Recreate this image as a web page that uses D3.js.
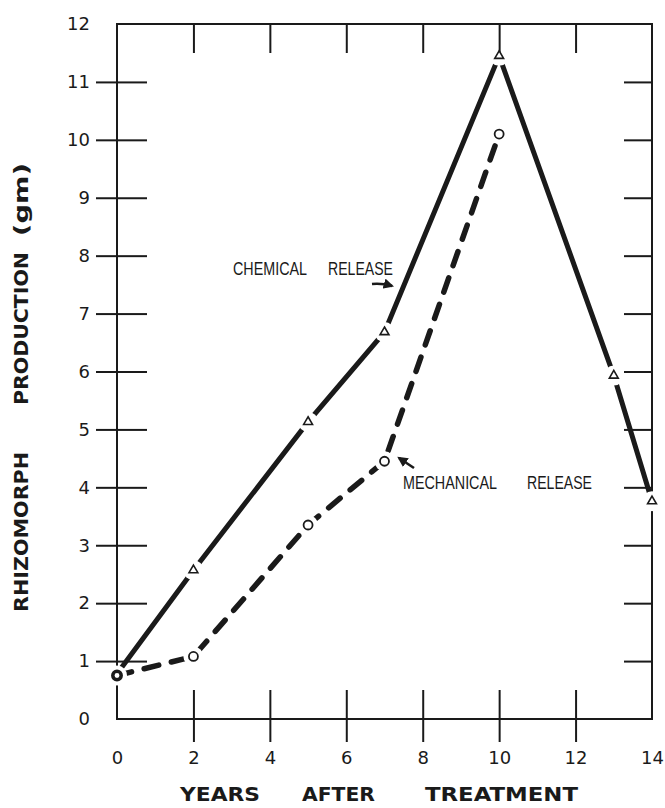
<!DOCTYPE html>
<html>
<head>
<meta charset="utf-8">
<script src="https://cdn.jsdelivr.net/npm/d3@7"></script>
<style>
  body { margin: 0; background: #fff; }
  .tick text { font-family: "DejaVu Sans", sans-serif; font-size: 18px; fill: #1a1a1a; }
  .tick line { stroke: #1a1a1a; stroke-width: 2; }
  .domain { display: none; }
</style>
</head>
<body>
<div id="chart"></div>
<script>
// data
var chemYears = [0, 2, 5, 7, 10, 13, 14];
var chemical = [0.78, 2.57, 5.13, 6.68, 11.45, 5.93, 3.76];
var mechYears = [0, 2, 5, 7, 10];
var mechanical = [0.75, 1.08, 3.35, 4.45, 10.1];

var xLabels = [0, 2, 4, 6, 8, 10, 12, 14];
var xInner = [2, 4, 6, 8, 10, 12];
var yLabels = [0, 1, 2, 3, 4, 5, 6, 7, 8, 9, 10, 11, 12];
var yInner = [1, 2, 3, 4, 5, 6, 7, 8, 9, 10, 11];

var W = 665, H = 808;
var x = d3.scaleLinear().domain([0, 14]).range([117, 652]);
var y = d3.scaleLinear().domain([0, 12]).range([719, 24]);

var svg = d3.select("#chart").append("svg")
    .attr("width", W).attr("height", H)
    .style("font-family", "DejaVu Sans, sans-serif");

var ink = "#1a1a1a";

// frame
svg.append("rect")
    .attr("x", x(0)).attr("y", y(12))
    .attr("width", x(14) - x(0)).attr("height", y(0) - y(12))
    .attr("fill", "none").attr("stroke", ink).attr("stroke-width", 2);

// tick labels
svg.append("g").attr("transform", `translate(0, ${y(0)})`)
    .call(d3.axisBottom(x).tickValues(xLabels).tickSize(0).tickPadding(32));
svg.append("g").attr("transform", `translate(${x(0)}, 0)`)
    .call(d3.axisLeft(y).tickValues(yLabels).tickSize(0).tickPadding(27));

// tick marks (cross the bottom and left axes, inward on top and right)
svg.append("g").attr("transform", `translate(0, ${y(0)})`)
    .call(d3.axisBottom(x).tickValues(xInner).tickSize(23).tickFormat(""));
svg.append("g").attr("transform", `translate(0, ${y(0)})`)
    .call(d3.axisBottom(x).tickValues(xInner).tickSize(-29).tickFormat(""));
svg.append("g").attr("transform", `translate(${x(0)}, 0)`)
    .call(d3.axisLeft(y).tickValues(yInner).tickSize(21).tickFormat(""));
svg.append("g").attr("transform", `translate(${x(0)}, 0)`)
    .call(d3.axisLeft(y).tickValues(yInner).tickSize(-30).tickFormat(""));
svg.append("g").attr("transform", `translate(${x(14)}, 0)`)
    .call(d3.axisRight(y).tickValues(yInner).tickSize(-28).tickFormat(""));

// lines
var chemData = chemYears.map(function(d, i) { return [d, chemical[i]]; });
var mechData = mechYears.map(function(d, i) { return [d, mechanical[i]]; });

var line = d3.line()
    .x(function(d) { return x(d[0]); })
    .y(function(d) { return y(d[1]); });

svg.append("path").datum(chemData)
    .attr("d", line).attr("fill", "none")
    .attr("stroke", ink).attr("stroke-width", 5)
    .attr("stroke-linecap", "round");

svg.append("path").datum(mechData)
    .attr("d", line).attr("fill", "none")
    .attr("stroke", ink).attr("stroke-width", 5.5)
    .attr("stroke-linecap", "round")
    .attr("stroke-dasharray", "15,13");

// white gaps round the points
var allPts = chemData.slice(1).concat(mechData);
svg.append("g").selectAll("circle").data(allPts).join("circle")
    .attr("cx", function(d) { return x(d[0]); })
    .attr("cy", function(d) { return y(d[1]); })
    .attr("r", 10).attr("fill", "#fff");

// top ticks drawn after the gaps so they reach the marker
svg.append("g").attr("transform", `translate(0, ${y(12)})`)
    .call(d3.axisTop(x).tickValues(xInner).tickSize(-29).tickFormat(""));

// markers
svg.append("g").selectAll("path").data(chemData.slice(1)).join("path")
    .attr("d", d3.symbol(d3.symbolTriangle, 34))
    .attr("transform", function(d) { return `translate(${x(d[0])}, ${y(d[1])})`; })
    .attr("fill", "#fff").attr("stroke", ink).attr("stroke-width", 1.6);

svg.append("g").selectAll("circle").data(mechData).join("circle")
    .attr("cx", function(d) { return x(d[0]); })
    .attr("cy", function(d) { return y(d[1]); })
    .attr("r", function(d, i) { return i === 0 ? 4.2 : 4.5; })
    .attr("fill", "#fff").attr("stroke", ink)
    .attr("stroke-width", function(d, i) { return i === 0 ? 3.5 : 1.8; });

// annotations
function word(txt, x0, x1, base, size) {
    svg.append("text")
        .attr("x", x0).attr("y", base)
        .attr("textLength", x1 - x0).attr("lengthAdjust", "spacingAndGlyphs")
        .attr("font-family", "Liberation Sans, sans-serif")
        .attr("font-size", size).attr("fill", ink)
        .text(txt);
}
word("CHEMICAL", 233, 307, 275, 18);
word("RELEASE", 328, 393, 275, 18);
word("MECHANICAL", 403, 497, 489, 19);
word("RELEASE", 527, 592, 489, 19);

svg.append("defs").append("marker")
    .attr("id", "head").attr("viewBox", "0 0 10 10")
    .attr("refX", 8).attr("refY", 5)
    .attr("markerWidth", 4).attr("markerHeight", 4)
    .attr("orient", "auto")
    .append("path").attr("d", "M0,0 L10,5 L0,10 Z").attr("fill", ink);

svg.append("path")
    .attr("d", "M372,284 Q382,283 392,286")
    .attr("fill", "none").attr("stroke", ink).attr("stroke-width", 2.6)
    .attr("marker-end", "url(#head)");
svg.append("path")
    .attr("d", "M414,468 L399,458")
    .attr("fill", "none").attr("stroke", ink).attr("stroke-width", 2.6)
    .attr("marker-end", "url(#head)");

// axis titles
function bold(txt, x0, x1, base) {
    svg.append("text")
        .attr("x", x0).attr("y", base)
        .attr("textLength", x1 - x0).attr("lengthAdjust", "spacingAndGlyphs")
        .attr("font-family", "DejaVu Sans, sans-serif").attr("font-weight", "bold")
        .attr("font-size", 19).attr("fill", ink)
        .text(txt);
}
bold("YEARS", 180, 260, 801);
bold("AFTER", 302, 375, 801);
bold("TREATMENT", 425, 578, 801);

var yt = svg.append("g").attr("transform", "rotate(-90)");
function vword(txt, top, bottom) {
    yt.append("text")
        .attr("x", -bottom).attr("y", 28)
        .attr("textLength", bottom - top).attr("lengthAdjust", "spacingAndGlyphs")
        .attr("font-family", "DejaVu Sans, sans-serif").attr("font-weight", "bold")
        .attr("font-size", 19).attr("fill", ink)
        .text(txt);
}
vword("RHIZOMORPH", 452, 612);
vword("PRODUCTION", 252, 405);
vword("(gm)", 163, 236);
</script>
</body>
</html>
